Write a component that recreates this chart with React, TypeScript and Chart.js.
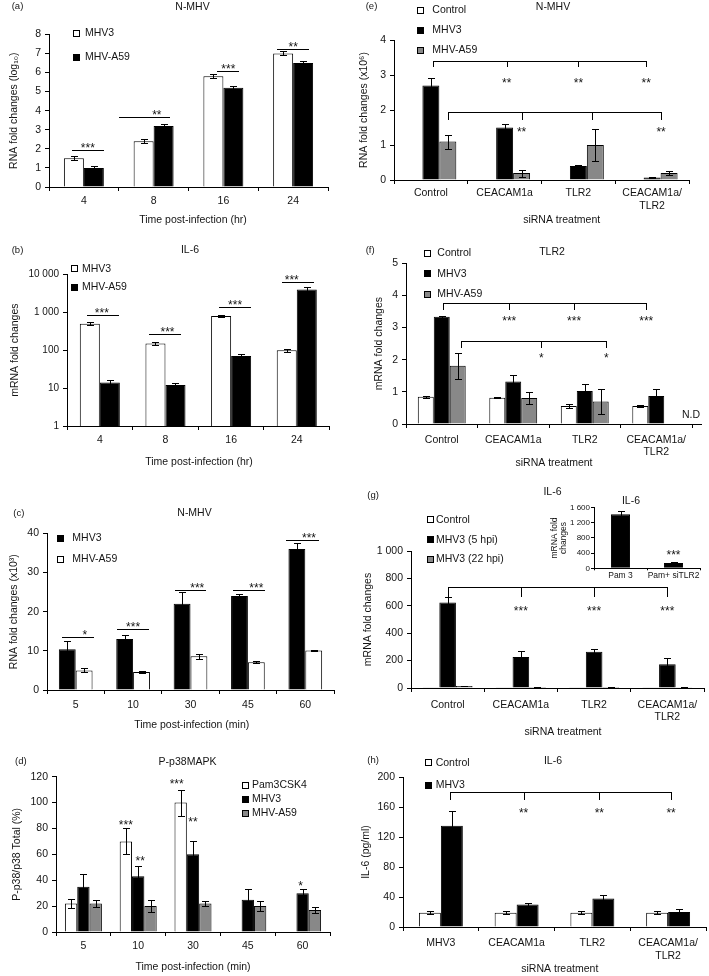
import React, { useEffect, useRef } from 'react';
import { Chart, registerables } from 'chart.js';

Chart.register(...registerables);

const FONT = "'Liberation Sans', Arial, Helvetica, sans-serif";
const INK = '#141414';
const WHITE = '#ffffff';
const BLACK = '#000000';
const GRAY = '#888888';
const STAR = 12;

// ---------- (a) N-MHV, log10 RNA ----------
const hoursLabels = ['4', '8', '16', '24'];
const aMHV3 = [1.5, 2.4, 5.8, 7.0];
const aMHV3Err = [0.1, 0.1, 0.1, 0.1];
const aA59 = [1.0, 3.2, 5.2, 6.5];
const aA59Err = [0.08, 0.1, 0.07, 0.08];
const aSigY = [1.92, 3.67, 6.1, 7.25];
const aSigStars = ['***', '**', '***', '**'];

// ---------- (b) IL-6 (log scale) ----------
const bMHV3 = [500, 150, 800, 100];
const bMHV3Err = [40, 12, 60, 8];
const bA59 = [14, 12, 70, 4000];
const bA59Err = [2, 2, 8, 500];
const bSigY = [846, 267, 1400, 6150];
const bSigStars = ['***', '***', '***', '***'];
const bTicks = [1, 10, 100, 1000, 10000];

// ---------- (c) N-MHV (x10^3) ----------
const minLabels = ['5', '10', '30', '45', '60'];
const cMHV3 = [10.4, 13.0, 22.0, 24.0, 36.0];
const cMHV3Err = [2.1, 1.0, 3.0, 0.5, 1.5];
const cA59 = [5.0, 4.6, 8.6, 7.1, 10.1];
const cA59Err = [0.5, 0.15, 0.6, 0.2, 0.15];
const cSigY = [13.5, 15.5, 25.6, 25.6, 38.4];
const cSigStars = ['*', '***', '***', '***', '***'];

// ---------- (d) P-p38MAPK ----------
const dPam = [22, 70, 100, null, null];
const dPamErr = [3.5, 10, 10, 0, 0];
const dMHV3 = [35, 43, 60, 25, 30];
const dMHV3Err = [10, 8, 10, 8, 3];
const dA59 = [22, 20, 22, 20, 17];
const dA59Err = [3, 4.5, 2, 4, 2];

// ---------- (e) N-MHV siRNA (x10^6) ----------
const siLabels: (string | string[])[] = ['Control', 'CEACAM1a', 'TLR2', ['CEACAM1a/', 'TLR2']];
const eCtrl = [0, 0, 0, 0];
const eMHV3 = [2.7, 1.5, 0.4, 0.07];
const eMHV3Err = [0.2, 0.1, 0.03, 0.01];
const eA59 = [1.1, 0.2, 1.0, 0.2];
const eA59Err = [0.2, 0.1, 0.45, 0.05];

// ---------- (f) TLR2 ----------
const fCtrl = [0.85, 0.82, 0.56, 0.56];
const fCtrlErr = [0.03, 0.02, 0.05, 0.02];
const fMHV3 = [3.34, 1.32, 1.03, 0.87];
const fMHV3Err = [0.03, 0.19, 0.22, 0.21];
const fA59 = [1.81, 0.81, 0.7, null];
const fA59Err = [0.4, 0.2, 0.4, 0];

// ---------- (g) IL-6 siRNA ----------
const gCtrl = [2, 2, 2, 2];
const gMHV3_5 = [624, 226, 264, 174];
const gMHV3_5Err = [37, 41, 24, 42];
const gMHV3_22 = [15, 8, 8, 5];
const gMHV3_22Err = [3, 2, 2, 1];

// ---------- (g) inset ----------
const insetLabels = ['Pam 3', 'Pam+ siTLR2'];
const insetVals = [1430, 140];
const insetErr = [80, 20];
const insetTicks = [0, 400, 800, 1200, 1600];

// ---------- (h) IL-6 pg/ml ----------
const hLabels: (string | string[])[] = ['MHV3', 'CEACAM1a', 'TLR2', ['CEACAM1a/', 'TLR2']];
const hCtrl = [19, 19, 19, 19];
const hCtrlErr = [2, 2, 2, 2];
const hMHV3 = [135, 30, 38, 20];
const hMHV3Err = [20, 2, 4.5, 4.4];

type Row = number | null;
interface DS { label: string; data: Row[]; err?: number[]; color: string; }
interface Sig { cat: number; y: number; f1: number; f2: number; sf: number; text: string; }
interface Bracket { y: number; drop: number; pts: [number, number, number][]; }
interface Star { cat: number; ds: number; dx: number; y: number; text: string; }
interface Txt { text: string; x: number; y: number; size?: number; align?: CanvasTextAlign; }
interface Spec {
  box: [number, number, number, number];
  area: [number, number, number, number];
  labels: (string | string[])[];
  datasets: DS[];
  catPct: number;
  log?: boolean;
  yMin: number; yMax: number; yStep?: number; yTicks?: number[];
  yTitle: string | string[]; yTitleX: number; yTitleSize?: number; yTitleLH?: number;
  xTickPad: number; xTickSize?: number; yTickSize?: number; yTickPad?: number; tickLen?: number; xTickLen?: number;
  legend?: { x: number; ys: number[]; textX: number };
  texts: Txt[];
  sigs?: Sig[];
  brackets?: Bracket[];
  stars?: Star[];
  cap?: number;
  axisExtendTo?: number;
}

const fmt = (v: number) => {
  const n = Number(v);
  return n >= 1000 ? String(n).replace(/\B(?=(\d{3})+(?!\d))/g, ' ') : String(n);
};

const mkSigs = (ys: number[], stars: string[], f1: number[], f2: number[], sf: number[]): Sig[] =>
  ys.map((y, i) => ({ cat: i, y, f1: f1[i], f2: f2[i], sf: sf[i], text: stars[i] }));

const specA: Spec = {
  box: [0, 0, 354, 235],
  area: [49, 34.3, 328, 187],
  labels: hoursLabels,
  datasets: [
    { label: 'MHV3', data: aMHV3, err: aMHV3Err, color: WHITE },
    { label: 'MHV-A59', data: aA59, err: aA59Err, color: BLACK },
  ],
  catPct: 0.573,
  yMin: 0, yMax: 8, yStep: 1,
  yTitle: 'RNA fold changes (log₁₀)', yTitleX: 14,
  xTickPad: 4.2,
  legend: { x: 73, ys: [33.5, 57], textX: 85 },
  texts: [
    { text: '(a)', x: 11.7, y: 6.7, size: 9.5, align: 'left' },
    { text: 'N-MHV', x: 192.5, y: 6.7 },
    { text: 'Time post-infection (hr)', x: 193, y: 220 },
  ],
  sigs: mkSigs(aSigY, aSigStars, [0.21, -0.36, 0.33, 0.1], [1.0, 0.9, 0.9, 0.9], [0.6, 0.58, 0.625, 0.5]),
};

const specB: Spec = {
  box: [0, 235, 354, 240],
  area: [67, 274.3, 329.6, 426],
  labels: hoursLabels,
  datasets: [
    { label: 'MHV3', data: bMHV3, err: bMHV3Err, color: WHITE },
    { label: 'MHV-A59', data: bA59, err: bA59Err, color: BLACK },
  ],
  catPct: 0.61,
  log: true,
  yMin: 1, yMax: 10000, yTicks: bTicks,
  yTitle: 'mRNA fold changes', yTitleX: 14.7,
  xTickPad: 3.5, yTickSize: 10,
  legend: { x: 71, ys: [268.7, 287.2], textX: 82 },
  texts: [
    { text: '(b)', x: 11.7, y: 250, size: 9.5, align: 'left' },
    { text: 'IL-6', x: 190, y: 250 },
    { text: 'Time post-infection (hr)', x: 199, y: 461.7 },
  ],
  sigs: mkSigs(bSigY, bSigStars, [0.19, 0.08, 0.2, 0.12], [0.99, 0.89, 1.0, 0.92], [0.55, 0.55, 0.6, 0.375]),
};

const specC: Spec = {
  box: [0, 475, 354, 260],
  area: [47, 533.3, 334, 690],
  labels: minLabels,
  datasets: [
    { label: 'MHV3', data: cMHV3, err: cMHV3Err, color: BLACK },
    { label: 'MHV-A59', data: cA59, err: cA59Err, color: WHITE },
  ],
  catPct: 0.587,
  yMin: 0, yMax: 40, yStep: 10,
  yTitle: 'RNA fold changes (x10³)', yTitleX: 13.8,
  xTickPad: 4.5,
  legend: { x: 57, ys: [538, 559], textX: 72.3 },
  texts: [
    { text: '(c)', x: 13.3, y: 513.3, size: 9.5, align: 'left' },
    { text: 'N-MHV', x: 194.5, y: 513 },
    { text: 'Time post-infection (min)', x: 191.7, y: 725 },
  ],
  sigs: mkSigs(cSigY, cSigStars, [0.1, 0.02, 0.03, 0.05, -0.08], [1.05, 0.97, 0.97, 1.02, 0.9], [0.77, 0.5, 0.7, 0.75, 0.61]),
};

const specD: Spec = {
  box: [0, 735, 354, 241],
  area: [56, 776.7, 330, 932],
  labels: minLabels,
  datasets: [
    { label: 'Pam3CSK4', data: dPam, err: dPamErr, color: WHITE },
    { label: 'MHV3', data: dMHV3, err: dMHV3Err, color: BLACK },
    { label: 'MHV-A59', data: dA59, err: dA59Err, color: GRAY },
  ],
  catPct: 0.675,
  yMin: 0, yMax: 120, yStep: 20,
  yTitle: 'P-p38/p38 Total (%)', yTitleX: 17,
  xTickPad: 4.2,
  legend: { x: 242, ys: [785, 799.5, 813], textX: 252 },
  texts: [
    { text: '(d)', x: 15, y: 761.7, size: 9.5, align: 'left' },
    { text: 'P-p38MAPK', x: 187.5, y: 762 },
    { text: 'Time post-infection (min)', x: 193, y: 966.7 },
  ],
  stars: [
    { cat: 1, ds: 0, dx: 0, y: 85, text: '***' },
    { cat: 1, ds: 1, dx: 2, y: 57, text: '**' },
    { cat: 2, ds: 0, dx: -4, y: 116.5, text: '***' },
    { cat: 2, ds: 1, dx: 0, y: 87, text: '**' },
    { cat: 4, ds: 1, dx: -2, y: 38, text: '*' },
  ],
};

const specE: Spec = {
  box: [354, 0, 355, 235],
  area: [394, 40, 689, 180],
  labels: siLabels,
  datasets: [
    { label: 'Control', data: eCtrl, color: WHITE },
    { label: 'MHV3', data: eMHV3, err: eMHV3Err, color: BLACK },
    { label: 'MHV-A59', data: eA59, err: eA59Err, color: GRAY },
  ],
  catPct: 0.69,
  yMin: 0, yMax: 4, yStep: 1,
  yTitle: 'RNA fold changes (x10⁶)', yTitleX: 364,
  xTickPad: 2.8,
  legend: { x: 417, ys: [10.3, 30.3, 50.3], textX: 432.3 },
  texts: [
    { text: '(e)', x: 365.7, y: 6.7, size: 9.5, align: 'left' },
    { text: 'N-MHV', x: 553, y: 6.7 },
    { text: 'siRNA treatment', x: 561.7, y: 220 },
  ],
  brackets: [
    { y: 3.4, drop: 3.22, pts: [[0, 1, 2], [1, 1, 2], [2, 1, 0], [3, 1, -6]] },
    { y: 1.93, drop: 1.71, pts: [[0, 2, 0], [1, 2, 0], [2, 2, -3], [3, 2, -8]] },
  ],
  stars: [
    { cat: 1, ds: 1, dx: 2, y: 2.86, text: '**' },
    { cat: 2, ds: 1, dx: 0, y: 2.86, text: '**' },
    { cat: 3, ds: 1, dx: -6, y: 2.86, text: '**' },
    { cat: 1, ds: 2, dx: 0, y: 1.45, text: '**' },
    { cat: 3, ds: 2, dx: -8, y: 1.45, text: '**' },
  ],
};

const specF: Spec = {
  box: [354, 235, 355, 240],
  area: [406, 263.3, 692, 424],
  axisExtendTo: 702,
  labels: siLabels,
  datasets: [
    { label: 'Control', data: fCtrl, err: fCtrlErr, color: WHITE },
    { label: 'MHV3', data: fMHV3, err: fMHV3Err, color: BLACK },
    { label: 'MHV-A59', data: fA59, err: fA59Err, color: GRAY },
  ],
  catPct: 0.67,
  yMin: 0, yMax: 5, yStep: 1,
  yTitle: 'mRNA fold changes', yTitleX: 379,
  xTickPad: 5.5,
  legend: { x: 424, ys: [253.3, 273.7, 294], textX: 437.3 },
  texts: [
    { text: '(f)', x: 365.7, y: 250, size: 9.5, align: 'left' },
    { text: 'TLR2', x: 552, y: 252 },
    { text: 'N.D', x: 691, y: 415 },
    { text: 'siRNA treatment', x: 554, y: 463.3 },
  ],
  brackets: [
    { y: 3.755, drop: 3.55, pts: [[0, 1, 1.5], [1, 1, -4], [2, 1, -10.7], [3, 1, -10]] },
    { y: 2.58, drop: 2.35, pts: [[0, 2, 3], [1, 2, 12], [2, 2, 5.5]] },
  ],
  stars: [
    { cat: 1, ds: 1, dx: -4, y: 3.29, text: '***' },
    { cat: 2, ds: 1, dx: -10.7, y: 3.29, text: '***' },
    { cat: 3, ds: 1, dx: -10, y: 3.29, text: '***' },
    { cat: 1, ds: 2, dx: 12, y: 2.13, text: '*' },
    { cat: 2, ds: 2, dx: 5.5, y: 2.13, text: '*' },
  ],
};

const specG: Spec = {
  box: [354, 475, 355, 265],
  area: [411, 551, 704, 688],
  labels: siLabels,
  datasets: [
    { label: 'Control', data: gCtrl, color: WHITE },
    { label: 'MHV3 (5 hpi)', data: gMHV3_5, err: gMHV3_5Err, color: BLACK },
    { label: 'MHV3 (22 hpi)', data: gMHV3_22, err: gMHV3_22Err, color: GRAY },
  ],
  catPct: 0.68,
  yMin: 0, yMax: 1000, yStep: 200,
  yTitle: 'mRNA fold changes', yTitleX: 368,
  xTickPad: 6.5,
  legend: { x: 426.7, ys: [519.7, 539.7, 559.3], textX: 436 },
  texts: [
    { text: '(g)', x: 367.3, y: 495, size: 9.5, align: 'left' },
    { text: 'IL-6', x: 552.5, y: 492 },
    { text: 'siRNA treatment', x: 563, y: 731.7 },
  ],
  brackets: [
    { y: 735, drop: 667, pts: [[0, 1, 0], [1, 1, 0], [2, 1, 0], [3, 1, 0]] },
  ],
  stars: [
    { cat: 1, ds: 1, dx: 0, y: 582, text: '***' },
    { cat: 2, ds: 1, dx: 0, y: 582, text: '***' },
    { cat: 3, ds: 1, dx: 0, y: 582, text: '***' },
  ],
};

const specInset: Spec = {
  box: [540, 485, 169, 100],
  area: [594, 507.7, 700, 568.3],
  labels: insetLabels,
  datasets: [{ label: 'IL-6', data: insetVals, err: insetErr, color: BLACK }],
  catPct: 0.36,
  yMin: 0, yMax: 1600, yTicks: insetTicks,
  yTitle: ['mRNA fold', 'changes'], yTitleX: 554.5, yTitleSize: 8.5, yTitleLH: 9.5,
  xTickPad: 0, xTickLen: 2, tickLen: 3, yTickPad: 1, xTickSize: 8.5, yTickSize: 8,
  texts: [{ text: 'IL-6', x: 631, y: 501, size: 10.5 }],
  stars: [{ cat: 1, ds: 0, dx: 0, y: 440, text: '***' }],
  cap: 3,
};

const specH: Spec = {
  box: [354, 740, 355, 236],
  area: [403, 777, 706, 927],
  labels: hLabels,
  datasets: [
    { label: 'Control', data: hCtrl, err: hCtrlErr, color: WHITE },
    { label: 'MHV3', data: hMHV3, err: hMHV3Err, color: BLACK },
  ],
  catPct: 0.58,
  yMin: 0, yMax: 200, yStep: 40,
  yTitle: 'IL-6 (pg/ml)', yTitleX: 366.5,
  xTickPad: 5.8,
  legend: { x: 424.7, ys: [762.7, 785], textX: 435.7 },
  texts: [
    { text: '(h)', x: 367.3, y: 760.7, size: 9.5, align: 'left' },
    { text: 'IL-6', x: 553, y: 761 },
    { text: 'siRNA treatment', x: 559.8, y: 969.3 },
  ],
  brackets: [
    { y: 180, drop: 169, pts: [[0, 1, -2], [1, 1, -4], [2, 1, -4], [3, 1, -8]] },
  ],
  stars: [
    { cat: 1, ds: 1, dx: -4, y: 156.4, text: '**' },
    { cat: 2, ds: 1, dx: -4, y: 156.4, text: '**' },
    { cat: 3, ds: 1, dx: -8, y: 156.4, text: '**' },
  ],
};

const SPECS: Spec[] = [specA, specB, specC, specD, specE, specF, specG, specInset, specH];

function overlay(spec: Spec) {
  return {
    id: 'overlay',
    afterDraw(chart: any) {
      const ctx: CanvasRenderingContext2D = chart.ctx;
      const [bx, by] = spec.box;
      const ys = chart.scales.y;
      const xs = chart.scales.x;
      const al = (v: number) => Math.round(v) + 0.5;
      const bar = (c: number, d: number) => chart.getDatasetMeta(d).data[c];
      ctx.save();
      ctx.strokeStyle = '#000';
      ctx.lineWidth = 1;
      const text = (s: string, x: number, y: number, size: number, align: CanvasTextAlign = 'center') => {
        ctx.font = `${size}px ${FONT}`;
        ctx.fillStyle = INK;
        ctx.textAlign = align;
        ctx.textBaseline = 'middle';
        ctx.fillText(s, x, y);
      };
      const starText = (s: string, x: number, yc: number) => {
        ctx.font = `${STAR}px ${FONT}`;
        ctx.fillStyle = INK;
        ctx.textAlign = 'center';
        ctx.textBaseline = 'alphabetic';
        ctx.fillText(s, x, yc + STAR * 0.575);
      };

      if (spec.axisExtendTo) {
        const y = al(xs.top);
        ctx.beginPath();
        ctx.moveTo(xs.right, y);
        ctx.lineTo(spec.axisExtendTo - bx, y);
        ctx.stroke();
      }

      const cap = spec.cap ?? 3;
      spec.datasets.forEach((ds, i) => {
        if (!ds.err) return;
        chart.getDatasetMeta(i).data.forEach((el: any, j: number) => {
          const v = ds.data[j];
          const e = ds.err![j];
          if (v == null || !e) return;
          const x = al(el.x);
          const y1 = al(ys.getPixelForValue(v + e));
          const y2 = al(ys.getPixelForValue(Math.max(v - e, ys.min)));
          ctx.beginPath();
          ctx.moveTo(x, y1);
          ctx.lineTo(x, y2);
          ctx.moveTo(x - cap - 0.5, y1);
          ctx.lineTo(x + cap + 0.5, y1);
          ctx.moveTo(x - cap - 0.5, y2);
          ctx.lineTo(x + cap + 0.5, y2);
          ctx.stroke();
        });
      });

      spec.sigs?.forEach((s) => {
        const b0 = bar(s.cat, 0);
        const b1 = bar(s.cat, spec.datasets.length - 1);
        const left = b0.x - b0.width / 2;
        const right = b1.x + b1.width / 2;
        const gw = right - left;
        const y = al(ys.getPixelForValue(s.y));
        ctx.beginPath();
        ctx.moveTo(Math.round(left + s.f1 * gw), y);
        ctx.lineTo(Math.round(left + s.f2 * gw), y);
        ctx.stroke();
        starText(s.text, left + s.sf * gw, y - 5.5);
      });

      spec.brackets?.forEach((b) => {
        const xsArr = b.pts.map(([c, d, dx]) => al(bar(c, d).x + dx));
        const y = al(ys.getPixelForValue(b.y));
        const yd = Math.round(ys.getPixelForValue(b.drop));
        ctx.beginPath();
        ctx.moveTo(Math.min(...xsArr) - 0.5, y);
        ctx.lineTo(Math.max(...xsArr) + 0.5, y);
        xsArr.forEach((x) => {
          ctx.moveTo(x, y);
          ctx.lineTo(x, yd);
        });
        ctx.stroke();
      });

      spec.stars?.forEach((s) => starText(s.text, bar(s.cat, s.ds).x + s.dx, ys.getPixelForValue(s.y)));

      if (spec.legend) {
        const L = spec.legend;
        spec.datasets.forEach((ds, i) => {
          const cy = L.ys[i] - by;
          const x0 = Math.round(L.x - bx);
          const y0 = Math.round(cy - 3.5);
          ctx.fillStyle = ds.color;
          ctx.fillRect(x0, y0, 7, 7);
          ctx.strokeRect(x0 + 0.5, y0 + 0.5, 6, 6);
          text(ds.label, L.textX - bx, cy, 10.5, 'left');
        });
      }

      spec.texts.forEach((t) => text(t.text, t.x - bx, t.y - by, t.size ?? 10.5, t.align ?? 'center'));
      ctx.restore();
    },
  };
}

function buildConfig(spec: Spec): any {
  const [bx, by, bw, bh] = spec.box;
  const [al, at, ar, ab] = spec.area;
  const tSize = spec.yTitleSize ?? 10.5;
  const yLH = spec.yTitleLH ?? tSize * 1.2;
  const padL = spec.yTitleX - yLH / 2 - bx;
  const yW = al - bx - padL;
  const padT = at - by;
  const padR = bx + bw - ar;
  const xH = by + bh - ab;
  const tl = spec.tickLen ?? 4;
  const xtl = spec.xTickLen ?? tl;
  const xts = spec.xTickSize ?? 10.5;
  const yts = spec.yTickSize ?? 10.5;

  const yScale: any = {
    type: spec.log ? 'logarithmic' : 'linear',
    min: spec.yMin,
    max: spec.yMax,
    grid: { display: true, drawOnChartArea: false, drawTicks: true, tickLength: tl, color: '#000', lineWidth: 1 },
    border: { display: true, color: '#000', width: 1 },
    ticks: {
      color: INK,
      font: { family: FONT, size: yts, lineHeight: 1.2 },
      padding: spec.yTickPad ?? 4,
      autoSkip: false,
      callback: (v: any) => fmt(Number(v)),
    },
    title: {
      display: true,
      text: spec.yTitle,
      color: INK,
      font: { family: FONT, size: tSize, lineHeight: yLH + 'px' },
      padding: 0,
    },
    afterFit: (s: any) => { s.width = yW; },
  };
  if (spec.yStep) yScale.ticks.stepSize = spec.yStep;
  if (spec.yTicks) {
    const tv = spec.yTicks;
    yScale.afterBuildTicks = (s: any) => { s.ticks = tv.map((v) => ({ value: v })); };
  }

  return {
    type: 'bar',
    data: {
      labels: spec.labels,
      datasets: spec.datasets.map((d) => ({
        label: d.label,
        data: d.data,
        backgroundColor: d.color,
        borderColor: '#000',
        borderWidth: 1,
        categoryPercentage: spec.catPct,
        barPercentage: 1,
      })),
    },
    options: {
      animation: false,
      responsive: false,
      maintainAspectRatio: false,
      devicePixelRatio: 1,
      events: [],
      layout: { padding: { left: padL, top: padT, right: padR, bottom: 0 } },
      plugins: { legend: { display: false }, title: { display: false }, tooltip: { enabled: false } },
      scales: {
        x: {
          type: 'category',
          offset: true,
          grid: { display: true, offset: true, drawOnChartArea: false, drawTicks: true, tickLength: xtl, color: '#000', lineWidth: 1 },
          border: { display: true, color: '#000', width: 1 },
          ticks: {
            color: INK,
            font: { family: FONT, size: xts, lineHeight: 1.2 },
            padding: spec.xTickPad,
            maxRotation: 0,
            minRotation: 0,
            autoSkip: false,
          },
          title: { display: false },
          afterFit: (s: any) => { s.height = xH; },
        },
        y: yScale,
      },
    },
    plugins: [overlay(spec)],
  };
}

function ChartPanel({ spec }: { spec: Spec }) {
  const ref = useRef<HTMLCanvasElement>(null);
  useEffect(() => {
    const c = ref.current;
    if (!c) return;
    const chart = new Chart(c, buildConfig(spec));
    return () => chart.destroy();
  }, [spec]);
  const [x, y, w, h] = spec.box;
  return (
    <canvas
      ref={ref}
      width={w}
      height={h}
      style={{ position: 'absolute', left: x, top: y, width: w, height: h, display: 'block' }}
    />
  );
}

export default function App() {
  return (
    <div style={{ position: 'fixed', left: 0, top: 0, width: 709, height: 976, background: '#ffffff', overflow: 'hidden' }}>
      {SPECS.map((s, i) => (
        <ChartPanel key={i} spec={s} />
      ))}
    </div>
  );
}
